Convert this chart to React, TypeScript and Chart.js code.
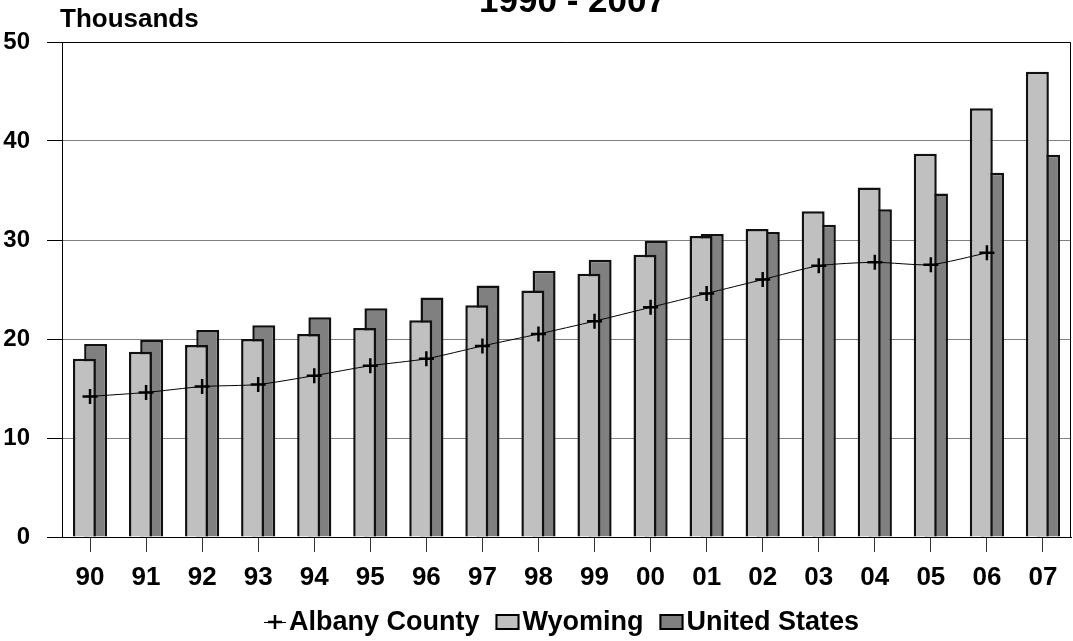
import React, { useEffect, useRef } from "react";
import { Chart, registerables } from "chart.js";

Chart.register(...registerables);

// ---- data ----
const years = ["90", "91", "92", "93", "94", "95", "96", "97", "98", "99", "00", "01", "02", "03", "04", "05", "06", "07"];
const albanyCounty = [14.2, 14.6, 15.2, 15.4, 16.3, 17.3, 18.0, 19.3, 20.5, 21.8, 23.2, 24.6, 26.0, 27.4, 27.75, 27.5, 28.7, null];
const wyoming = [18.0, 18.7, 19.4, 20.0, 20.5, 21.1, 21.9, 23.4, 24.9, 26.6, 28.5, 30.4, 31.1, 32.9, 35.3, 38.7, 43.3, 47.0];
const unitedStates = [19.5, 19.9, 20.9, 21.4, 22.2, 23.1, 24.2, 25.4, 26.9, 28.0, 29.9, 30.6, 30.8, 31.55, 33.1, 34.7, 36.8, 38.6];
const yTicks = [0, 10, 20, 30, 40, 50];
const chartTitle = "1990 - 2007";
const unitLabel = "Thousands";

const FONT = "'Liberation Sans', Arial, Helvetica, sans-serif";

const decorPlugin = {
  id: "decor",
  afterDraw(chart: any) {
    const { ctx, chartArea: a } = chart;
    ctx.save();
    // frame: top and right
    ctx.strokeStyle = "#000";
    ctx.lineWidth = 1;
    const top = Math.round(a.top) + 0.5;
    const right = Math.round(a.right) - 0.5;
    ctx.beginPath();
    ctx.moveTo(a.left, top);
    ctx.lineTo(right, top);
    ctx.lineTo(right, a.bottom);
    ctx.stroke();

    // title (partly cut off at the top, as in the source)
    ctx.fillStyle = "#000";
    ctx.textBaseline = "alphabetic";
    ctx.textAlign = "center";
    ctx.font = `bold 35px ${FONT}`;
    ctx.fillText(chartTitle, (a.left + a.right) / 2 + 6, 12);

    // unit label
    ctx.textAlign = "left";
    ctx.font = `bold 26px ${FONT}`;
    ctx.fillText(unitLabel, a.left - 2, 27);

    // legend
    const metas = chart.getSortedVisibleDatasetMetas();
    const items = metas.map((m: any) => ({ ds: chart.data.datasets[m.index], type: m.type }));
    ctx.font = `bold 27px ${FONT}`;
    const markerW = (t: string) => (t === "line" ? 22 : 24);
    const textGap = 3;
    const itemGap = 16;
    let total = 0;
    items.forEach((it: any, i: number) => {
      total += markerW(it.type) + textGap + ctx.measureText(it.ds.label).width;
      if (i < items.length - 1) total += itemGap;
    });
    let x = (a.left + a.right) / 2 - 5 - total / 2;
    const cy = 622;
    items.forEach((it: any) => {
      const w = markerW(it.type);
      if (it.type === "line") {
        ctx.strokeStyle = "#000";
        ctx.lineWidth = 1;
        ctx.beginPath();
        ctx.moveTo(x, cy + 0.5);
        ctx.lineTo(x + w, cy + 0.5);
        ctx.stroke();
        ctx.lineWidth = 2.5;
        ctx.beginPath();
        ctx.moveTo(x + w / 2, cy - 7);
        ctx.lineTo(x + w / 2, cy + 7);
        ctx.moveTo(x + w / 2 - 7, cy);
        ctx.lineTo(x + w / 2 + 7, cy);
        ctx.stroke();
      } else {
        ctx.fillStyle = it.ds.backgroundColor;
        ctx.fillRect(x, cy - 8, w, 16);
        ctx.strokeStyle = "#000";
        ctx.lineWidth = 2;
        ctx.strokeRect(x + 1, cy - 8 + 1, w - 2, 16 - 2);
      }
      x += w + textGap;
      ctx.fillStyle = "#000";
      ctx.textBaseline = "alphabetic";
      ctx.fillText(it.ds.label, x, cy + 8);
      x += ctx.measureText(it.ds.label).width + itemGap;
    });
    ctx.restore();
  },
};

export default function App() {
  const canvasRef = useRef<HTMLCanvasElement | null>(null);

  useEffect(() => {
    if (!canvasRef.current) return;
    Chart.defaults.font.family = FONT;
    const chart = new Chart(canvasRef.current, {
      type: "bar",
      data: {
        labels: years,
        datasets: [
          {
            type: "line",
            label: "Albany County",
            data: albanyCounty,
            borderColor: "#000",
            borderWidth: 1,
            pointStyle: "cross",
            pointRadius: 7.5,
            pointBorderWidth: 2.5,
            pointBorderColor: "#000",
            pointBackgroundColor: "#000",
            tension: 0.2,
            fill: false,
            order: 0,
          } as any,
          {
            type: "bar",
            label: "Wyoming",
            data: wyoming,
            backgroundColor: "#C0C0C0",
            borderColor: "#111",
            borderWidth: 2.5,
            categoryPercentage: 0.4,
            barPercentage: 2.05,
            order: 1,
          },
          {
            type: "bar",
            label: "United States",
            data: unitedStates,
            backgroundColor: "#808080",
            borderColor: "#111",
            borderWidth: 2.5,
            categoryPercentage: 0.4,
            barPercentage: 2.05,
            order: 2,
          },
        ],
      },
      options: {
        animation: false,
        responsive: false,
        devicePixelRatio: 1,
        layout: { autoPadding: false, padding: { top: 42, right: 2, left: 0, bottom: 0 } },
        plugins: {
          legend: { display: false },
          title: { display: false },
          tooltip: { enabled: false },
        },
        scales: {
          x: {
            type: "category",
            offset: true,
            grid: {
              display: true,
              drawOnChartArea: false,
              drawTicks: true,
              tickLength: 15,
              offset: false,
              color: "#000",
              tickColor: "#333",
            },
            border: { display: true, color: "#000", width: 1 },
            ticks: {
              color: "#000",
              font: { family: FONT, size: 26, weight: "bold" },
              padding: 10,
              maxRotation: 0,
              autoSkip: false,
            },
            afterFit: (s: any) => {
              s.height = 104;
              s.paddingLeft = 0;
              s.paddingRight = 0;
            },
          },
          y: {
            min: 0,
            max: 50,
            afterBuildTicks: (s: any) => {
              s.ticks = yTicks.map((v) => ({ value: v }));
            },
            ticks: {
              color: "#000",
              font: { family: FONT, size: 24, weight: "bold" },
              padding: 17,
            },
            grid: { color: "#808080", tickLength: 15, tickColor: "#000", lineWidth: 1 },
            border: { display: true, color: "#000", width: 1 },
            afterFit: (s: any) => {
              s.width = 62;
              s.paddingTop = 0;
              s.paddingBottom = 0;
            },
          },
        },
      },
      plugins: [decorPlugin],
    });
    return () => chart.destroy();
  }, []);

  return (
    <canvas
      ref={canvasRef}
      width={1073}
      height={641}
      style={{ position: "absolute", left: 0, top: 0, width: 1073, height: 641, display: "block" }}
    />
  );
}
